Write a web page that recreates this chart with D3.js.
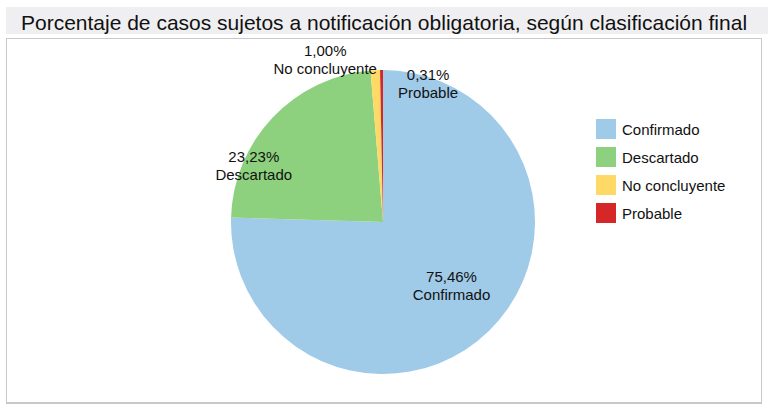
<!DOCTYPE html>
<html>
<head>
<meta charset="utf-8">
<script src="https://cdn.jsdelivr.net/npm/d3@7"></script>
<style>
  html, body { margin: 0; padding: 0; background: #fff; }
  svg { display: block; font-family: "Liberation Sans", Arial, sans-serif; }
</style>
</head>
<body>
<div id="chart"></div>
<script>
// datos
const title = "Porcentaje de casos sujetos a notificación obligatoria, según clasificación final";
const categories = ["Confirmado", "Descartado", "No concluyente", "Probable"];
const values = [75.46, 23.23, 1.00, 0.31];
const colors = ["#9fcae8", "#8dd17e", "#ffd966", "#d62728"];
// desplazamiento de etiquetas respecto al centroide (px)
const labelNudge = [[3, -3], [-61, 9], [-53, -68], [46, -44]];

const W = 768, H = 406;
const svg = d3.select("#chart").append("svg").attr("width", W).attr("height", H);

// marco + banda de titulo
svg.append("rect").attr("x", 6).attr("y", 7).attr("width", 762).attr("height", 27).attr("fill", "#efeff1");
svg.append("text").attr("x", 384).attr("y", 30).attr("text-anchor", "middle")
  .attr("font-size", 21).attr("fill", "#111").text(title);
svg.append("rect").attr("x", 6.5).attr("y", 38.5).attr("width", 755).attr("height", 364)
  .attr("fill", "#fff").attr("stroke", "#c8c8c8").attr("stroke-width", 1);
svg.append("line").attr("x1", 6).attr("x2", 762).attr("y1", 403).attr("y2", 403)
  .attr("stroke", "#c8c8c8").attr("stroke-width", 2);

const cx = 383, cy = 222, R = 152;
const data = categories.map((c, i) => ({ cat: c, val: values[i], color: colors[i], nudge: labelNudge[i] }));
const pie = d3.pie().value(d => d.val).sort(null);
const arc = d3.arc().innerRadius(0).outerRadius(R);
const labelArc = d3.arc().innerRadius(94).outerRadius(94);

const g = svg.append("g").attr("transform", `translate(${cx},${cy})`);
const arcs = pie(data);
g.selectAll("path.slice").data(arcs).join("path")
  .attr("class", "slice")
  .attr("d", arc)
  .attr("fill", d => d.data.color);

const fmt = v => d3.format(".2f")(v).replace(".", ",") + "%";
const lab = g.selectAll("g.lab").data(arcs).join("g")
  .attr("class", "lab")
  .attr("transform", d => {
    const [x, y] = labelArc.centroid(d);
    return `translate(${x + d.data.nudge[0]},${y + d.data.nudge[1]})`;
  });
lab.append("text").attr("text-anchor", "middle").attr("font-size", 15).attr("fill", "#111")
  .attr("y", -4).text(d => fmt(d.data.val));
lab.append("text").attr("text-anchor", "middle").attr("font-size", 15).attr("fill", "#111")
  .attr("y", 14).text(d => d.data.cat);

// leyenda
const legend = svg.append("g").attr("transform", "translate(596,119)");
const li = legend.selectAll("g").data(data).join("g")
  .attr("transform", (d, i) => `translate(0,${i * 28})`);
li.append("rect").attr("width", 20).attr("height", 20).attr("fill", d => d.color);
li.append("text").attr("x", 26).attr("y", 15.5).attr("font-size", 15).attr("fill", "#111").text(d => d.cat);
</script>
</body>
</html>
